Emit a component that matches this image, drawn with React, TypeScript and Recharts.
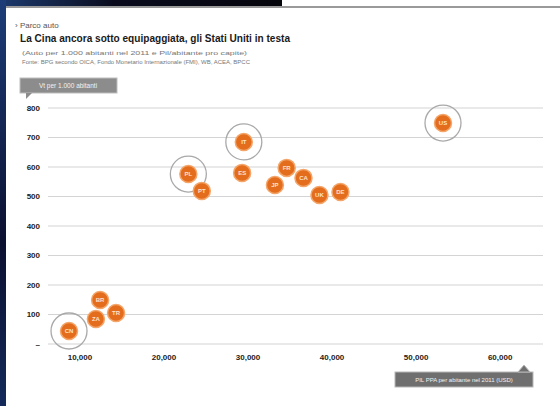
import { ScatterChart, Scatter, XAxis, YAxis, CartesianGrid } from 'recharts';

// Auto per 1.000 abitanti vs Pil pro capite (PPA), 2011
const COUNTRIES = ['CN', 'BR', 'ZA', 'TR', 'PL', 'PT', 'IT', 'ES', 'JP', 'FR', 'CA', 'UK', 'DE', 'US'];
const GDP_PC = [8700, 12400, 11900, 14300, 22900, 24500, 29500, 29300, 33200, 34600, 36600, 38500, 41000, 53200];
const CARS = [44, 149, 85, 105, 576, 519, 685, 580, 539, 597, 563, 505, 515, 749];
const HIGHLIGHT = ['CN', 'PL', 'IT', 'US'];

const X_TICKS = [10000, 20000, 30000, 40000, 50000, 60000];
const Y_TICKS = [0, 100, 200, 300, 400, 500, 600, 700, 800];

const FONT = '"Liberation Sans", Arial, sans-serif';
const ORANGE = '#e36d1d';

const points = COUNTRIES.map((code, i) => ({ code, gdp: GDP_PC[i], cars: CARS[i] }));
const halos = points.filter((p) => HIGHLIGHT.includes(p.code));

const Dot = (props: any) => {
  const { cx, cy, payload } = props;
  return (
    <g>
      <circle cx={cx} cy={cy} r={8.5} fill={ORANGE} stroke="#f3a56a" strokeWidth={1.5} />
      <text
        x={cx}
        y={cy}
        dy="0.35em"
        textAnchor="middle"
        fontSize={6}
        fontWeight="bold"
        fill="#ffe2c8"
        style={{ fontFamily: FONT }}
      >
        {payload.code}
      </text>
    </g>
  );
};

const Halo = (props: any) => (
  <circle cx={props.cx} cy={props.cy} r={18} fill="none" stroke="#a9a9a9" strokeWidth={1.3} />
);

export default function App() {
  return (
    <div style={{ position: 'absolute', left: 0, top: 0, width: 560, height: 406, background: '#fff', overflow: 'hidden' }}>
      {/* photo frame edges */}
      <div style={{ position: 'absolute', left: 0, top: 0, width: 282, height: 6, background: 'linear-gradient(90deg,#1c3a6e,#0a0c1e 40%,#05050c)' }} />
      <div style={{ position: 'absolute', left: 0, top: 6, width: 560, height: 2, background: '#9a9a9a' }} />
      <div style={{ position: 'absolute', left: 0, top: 0, width: 6, height: 406, background: 'linear-gradient(180deg,#1d3d78,#0b1030 60%,#142a5a)' }} />

      <svg width={560} height={406} style={{ position: 'absolute', left: 0, top: 0, fontFamily: FONT }}>
        <text x={15} y={28} fontSize={8} fill="#555">› Parco auto</text>
        <text x={20} y={42} fontSize={10} fontWeight="bold" fill="#1a1a1a" textLength={270} lengthAdjust="spacingAndGlyphs">
          La Cina ancora sotto equipaggiata, gli Stati Uniti in testa
        </text>
        <text x={22} y={55} fontSize={6} fill="#777" textLength={225} lengthAdjust="spacingAndGlyphs">
          (Auto per 1.000 abitanti nel 2011 e Pil/abitante pro capite)
        </text>
        <text x={22} y={64} fontSize={6} fill="#777" textLength={228} lengthAdjust="spacingAndGlyphs">
          Fonte: BPG secondo OICA, Fondo Monetario Internazionale (FMI), WB, ACEA, BPCC
        </text>

        <rect x={20} y={78} width={97} height={15} fill="#8c8c8c" stroke="#bdbdbd" />
        <path d="M26 93 L32 93 L26 99 Z" fill="#8c8c8c" />
        <text x={68} y={88} fontSize={6.5} fill="#f2f2f2" textAnchor="middle">Vt per 1.000 abitanti</text>

        <rect x={395} y={372} width={138} height={15} fill="#6f6f6f" stroke="#b8b8b8" />
        <path d="M518 372 L524 365 L530 372 Z" fill="#6f6f6f" stroke="#b8b8b8" />
        <text x={464} y={382} fontSize={6} fill="#f2f2f2" textAnchor="middle">PIL PPA per abitante nel 2011 (USD)</text>
      </svg>

      <div style={{ position: 'absolute', left: 0, top: 0 }}>
        <ScatterChart width={560} height={406} margin={{ top: 108, right: 17, bottom: 32, left: 8 }}>
          <CartesianGrid vertical={false} stroke="#d4d4d4" strokeWidth={1.2} />
          <XAxis
            type="number"
            dataKey="gdp"
            domain={[6200, 65100]}
            ticks={X_TICKS}
            axisLine={false}
            tickLine={false}
            tickMargin={4}
            height={30}
            tick={{ fontSize: 8, fontWeight: 'bold', fill: '#222', fontFamily: FONT }}
            tickFormatter={(v: number) => v.toLocaleString('en-US')}
          />
          <YAxis
            type="number"
            dataKey="cars"
            domain={[0, 800]}
            ticks={Y_TICKS}
            axisLine={false}
            tickLine={false}
            width={40}
            tick={{ fontSize: 8, fontWeight: 'bold', fill: '#222', fontFamily: FONT }}
            tickFormatter={(v: number) => (v === 0 ? '–' : String(v))}
          />
          <Scatter data={halos} shape={Halo} isAnimationActive={false} />
          <Scatter data={points} shape={Dot} isAnimationActive={false} />
        </ScatterChart>
      </div>
    </div>
  );
}
